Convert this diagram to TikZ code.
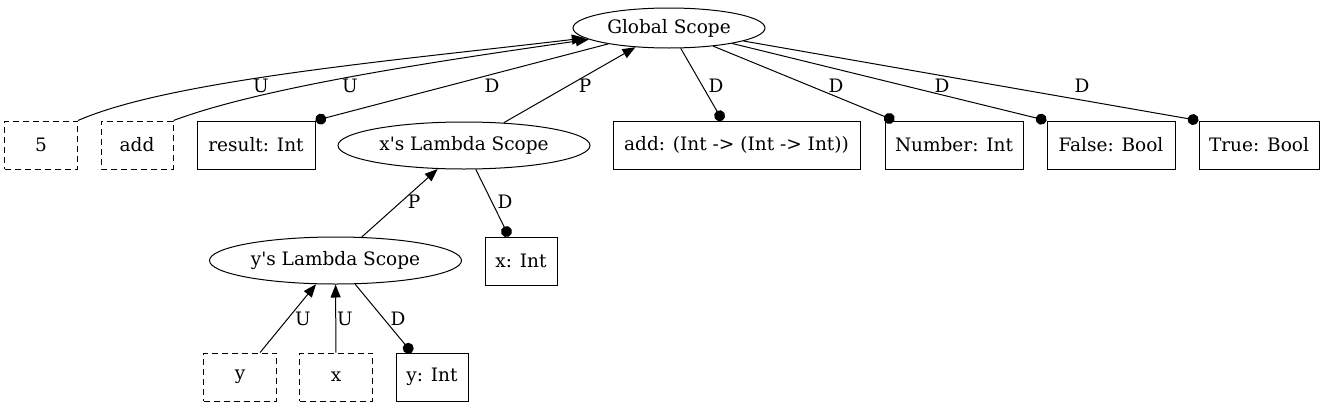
\documentclass[tikz,border=0pt]{standalone}
\usepackage{fontspec}
\setmainfont{DejaVu Serif}[Ligatures=TeXOff]
\usetikzlibrary{shapes.geometric,arrows.meta}

\begin{document}
\begin{tikzpicture}[
	x=1pt, y=-1pt, % one unit per pixel, y grows downwards
	% Style for the edge labels
	lbl/.style={
		font=\fontsize{18.5}{22}\selectfont,
		inner sep=0pt
	},
	% Styles for the different node shapes
	scope node/.style={
		ellipse,
		draw,
		line width=1pt,
		inner sep=0pt,
		minimum width=252pt,
		minimum height=47pt,
		font=\fontsize{18.5}{22}\selectfont
	},
	decl node/.style={
		rectangle,
		draw,
		line width=1pt,
		inner sep=0pt,
		minimum height=48pt,
		font=\fontsize{18.5}{22}\selectfont
	},
	use node/.style={
		decl node,
		dash pattern=on 6pt off 4pt
	},
	% Styles for the connecting edges
	up edge/.style={
		draw,
		line width=1pt,
		-{Triangle[length=13pt,width=10pt]}
	},
	def edge/.style={
		draw,
		line width=1pt,
		-{Circle[length=11pt]}
	}
	]
	
	\useasboundingbox (0,0) rectangle (1325,407);
	
	% ================= NODES =================
	\node[scope node, minimum width=192pt, minimum height=40pt] (GS) at (669,28) {Global Scope};
	\node[scope node] (XS) at (464,145.5) {x's Lambda Scope};
	\node[scope node] (YS) at (335.5,260.5) {y's Lambda Scope};
	
	\node[use node,  minimum width=73pt]  (N5)    at (41,145)    {5};
	\node[use node,  minimum width=72pt]  (ADD)   at (137,145)   {add};
	\node[decl node, minimum width=118pt] (RES)   at (256,145)   {result: Int};
	\node[decl node, minimum width=247pt] (ADDT)  at (736.5,145) {add: (Int -> (Int -> Int))};
	\node[decl node, minimum width=138pt] (NUM)   at (954,145)   {Number: Int};
	\node[decl node, minimum width=128pt] (FALSE) at (1111,145)  {False: Bool};
	\node[decl node, minimum width=120pt] (TRUE)  at (1259,145)  {True: Bool};
	\node[decl node, minimum width=72pt]  (XI)    at (521,261)   {x: Int};
	\node[use node,  minimum width=73pt]  (YV)    at (240,377)   {y};
	\node[use node,  minimum width=73pt]  (XV)    at (336,377)   {x};
	\node[decl node, minimum width=72pt]  (YI)    at (432,377)   {y: Int};
	
	% ================= EDGES =================
	\draw[up edge] (N5.north east) .. controls (170,80) and (400,60) .. (GS) node[lbl] at (261,86) {U};
	\draw[up edge] (ADD.north east) .. controls (260,88) and (430,62) .. (GS) node[lbl] at (350,86) {U};
	\draw[def edge] (GS) -- (RES.north east) node[lbl] at (492,86) {D};
	\draw[up edge] (XS) -- (GS) node[lbl] at (585,86) {P};
	\draw[def edge] (GS) -- (ADDT) node[lbl] at (716,86) {D};
	\draw[def edge] (GS) -- (NUM) node[lbl] at (836,86) {D};
	\draw[def edge] (GS) -- (FALSE.north west) node[lbl] at (942,86) {D};
	\draw[def edge] (GS) -- (TRUE.north west) node[lbl] at (1082,86) {D};
	\draw[up edge] (YS) -- (XS) node[lbl] at (414,202) {P};
	\draw[def edge] (XS) -- (XI) node[lbl] at (505,202) {D};
	\draw[up edge] (YV) -- (YS) node[lbl] at (303,319) {U};
	\draw[up edge] (XV) -- (YS) node[lbl] at (345,319) {U};
	\draw[def edge] (YS) -- (YI) node[lbl] at (398,319) {D};
	
\end{tikzpicture}
\end{document}
